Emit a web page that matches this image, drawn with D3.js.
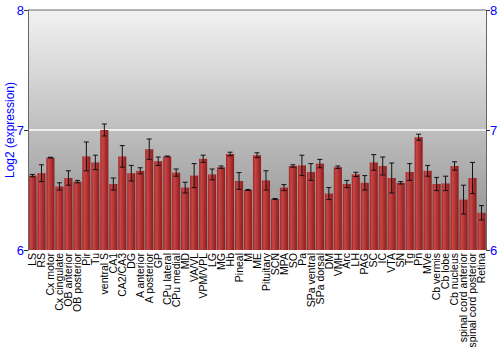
<!DOCTYPE html>
<html>
<head>
<meta charset="utf-8">
<script src="https://cdn.jsdelivr.net/npm/d3@7"></script>
<style>
  body { margin: 0; background: #fff; }
  text { font-family: "Liberation Sans", Arial, sans-serif; }
</style>
</head>
<body>
<div id="chart"></div>
<script>
// tissue names and log2 expression (mean, +/- error)
var tissues = ["LS", "RS", "Cx motor", "Cx cingulate", "OB anterior", "OB posterior", "Pir", "Tu",
  "ventral S", "CA1", "CA2/CA3", "DG", "A anterior", "A posterior", "GP", "CPu lateral", "CPu medial",
  "MD", "VA/VL", "VPM/VPL", "LG", "MG", "Hb", "Pineal", "M", "ME", "Pituitary", "SCN", "MPA", "SO",
  "Pa", "SPa ventral", "SPa dorsal", "DM", "VMH", "Arc", "LH", "PAG", "SC", "IC", "VTA", "SN", "Tg",
  "Pn", "MVe", "Cb vermis", "Cb lobe", "Cb nucleus", "spinal cord anterior", "spinal cord posterior", "Retina"];
var means = [6.62, 6.64, 6.77, 6.53, 6.60, 6.57, 6.78, 6.73,
  7.00, 6.55, 6.78, 6.64, 6.66, 6.84, 6.74, 6.78, 6.645,
  6.52, 6.62, 6.76, 6.63, 6.69, 6.80, 6.575, 6.50, 6.79, 6.58, 6.425, 6.52, 6.70,
  6.705, 6.65, 6.72, 6.47, 6.69, 6.55, 6.63, 6.56, 6.73, 6.70, 6.60, 6.56, 6.65,
  6.94, 6.66, 6.55, 6.555, 6.70, 6.42, 6.60, 6.31];
var errs = [0.01, 0.07, 0.003, 0.03, 0.06, 0.01, 0.12, 0.06,
  0.05, 0.05, 0.09, 0.065, 0.025, 0.085, 0.035, 0.003, 0.03,
  0.045, 0.10, 0.03, 0.045, 0.01, 0.015, 0.07, 0.004, 0.02, 0.08, 0.004, 0.025, 0.01,
  0.085, 0.07, 0.035, 0.05, 0.01, 0.03, 0.018, 0.06, 0.065, 0.075, 0.125, 0.01, 0.07,
  0.025, 0.045, 0.055, 0.06, 0.035, 0.12, 0.13, 0.06];
var yTicks = [6, 7, 8];

var margin = {top: 10, right: 14, bottom: 100, left: 28},
    width = 500 - margin.left - margin.right,
    height = 350 - margin.top - margin.bottom;

var svg = d3.select("#chart").append("svg")
    .attr("width", 500)
    .attr("height", 350);

var defs = svg.append("defs");
var bg = defs.append("linearGradient").attr("id", "bgGrad")
    .attr("x1", 0).attr("y1", 0).attr("x2", 0).attr("y2", 1);
bg.append("stop").attr("offset", "0%").attr("stop-color", "#f2f2f2");
bg.append("stop").attr("offset", "100%").attr("stop-color", "#8a8a8a");

var barGrad = defs.append("linearGradient").attr("id", "barGrad")
    .attr("x1", 0).attr("y1", 0).attr("x2", 1).attr("y2", 0);
barGrad.append("stop").attr("offset", "0%").attr("stop-color", "#9a2222");
barGrad.append("stop").attr("offset", "25%").attr("stop-color", "#c84646");
barGrad.append("stop").attr("offset", "100%").attr("stop-color", "#8e1c1c");

var g = svg.append("g")
    .attr("transform", "translate(" + margin.left + "," + margin.top + ")");

var x = d3.scaleBand().domain(tissues).range([0, width]).paddingInner(0.1).paddingOuter(0.05);
var y = d3.scaleLinear().domain([6, 8]).range([height, 0]);

g.append("rect")
    .attr("width", width)
    .attr("height", height)
    .attr("fill", "url(#bgGrad)");

// grid line at 7
g.selectAll(".grid")
    .data([7])
    .enter().append("line")
    .attr("x1", 0).attr("x2", width)
    .attr("y1", function(d) { return y(d); })
    .attr("y2", function(d) { return y(d); })
    .attr("stroke", "#ffffff")
    .attr("stroke-width", 1.5);

var data = tissues.map(function(t, i) { return {name: t, mean: means[i], err: errs[i]}; });

g.selectAll(".bar")
    .data(data)
    .enter().append("rect")
    .attr("class", "bar")
    .attr("x", function(d) { return x(d.name); })
    .attr("y", function(d) { return y(d.mean); })
    .attr("width", x.bandwidth())
    .attr("height", function(d) { return height - y(d.mean); })
    .attr("fill", "url(#barGrad)");

var eb = g.selectAll(".err")
    .data(data)
    .enter().append("g")
    .attr("class", "err")
    .attr("stroke", "#111")
    .attr("stroke-width", 1);
eb.append("line")
    .attr("x1", function(d) { return x(d.name) + x.bandwidth() / 2; })
    .attr("x2", function(d) { return x(d.name) + x.bandwidth() / 2; })
    .attr("y1", function(d) { return y(d.mean + d.err); })
    .attr("y2", function(d) { return y(d.mean - d.err); });
eb.append("line")
    .attr("x1", function(d) { return x(d.name) + x.bandwidth() / 2 - 2.5; })
    .attr("x2", function(d) { return x(d.name) + x.bandwidth() / 2 + 2.5; })
    .attr("y1", function(d) { return y(d.mean + d.err); })
    .attr("y2", function(d) { return y(d.mean + d.err); });
eb.append("line")
    .attr("x1", function(d) { return x(d.name) + x.bandwidth() / 2 - 2.5; })
    .attr("x2", function(d) { return x(d.name) + x.bandwidth() / 2 + 2.5; })
    .attr("y1", function(d) { return y(d.mean - d.err); })
    .attr("y2", function(d) { return y(d.mean - d.err); });

// axes
var yLeft = g.append("g")
    .call(d3.axisLeft(y).tickValues(yTicks).tickFormat(d3.format("d")).tickSize(4));
var yRight = g.append("g")
    .attr("transform", "translate(" + width + ",0)")
    .call(d3.axisRight(y).tickValues(yTicks).tickFormat(d3.format("d")).tickSize(4));
[yLeft, yRight].forEach(function(a) {
  a.select(".domain").attr("stroke", "#666");
  a.selectAll(".tick line").attr("stroke", "#333");
  a.selectAll(".tick text")
    .attr("fill", "#0000ff")
    .style("font-size", "13px")
    .style("font-family", "'Liberation Sans', Arial, sans-serif");
});
yLeft.selectAll(".tick text").attr("x", -4);
yRight.selectAll(".tick text").attr("x", 4);

g.append("line")
    .attr("x1", 0).attr("x2", width)
    .attr("y1", 0).attr("y2", 0)
    .attr("stroke", "#666");

var xAxis = g.append("g")
    .attr("transform", "translate(0," + height + ")")
    .call(d3.axisBottom(x).tickSize(0));
xAxis.select(".domain").remove();
xAxis.selectAll(".tick text")
    .attr("transform", "rotate(-90)")
    .attr("x", -3)
    .attr("y", 0)
    .attr("dy", "0.35em")
    .style("text-anchor", "end")
    .style("font-size", "10.5px")
    .style("font-family", "'Liberation Sans', Arial, sans-serif")
    .attr("fill", "#000");

svg.append("text")
    .attr("transform", "translate(14," + (margin.top + height / 2) + ") rotate(-90)")
    .style("text-anchor", "middle")
    .style("font-size", "12px")
    .attr("fill", "#0000ff")
    .text("Log2 (expression)");
</script>
</body>
</html>
